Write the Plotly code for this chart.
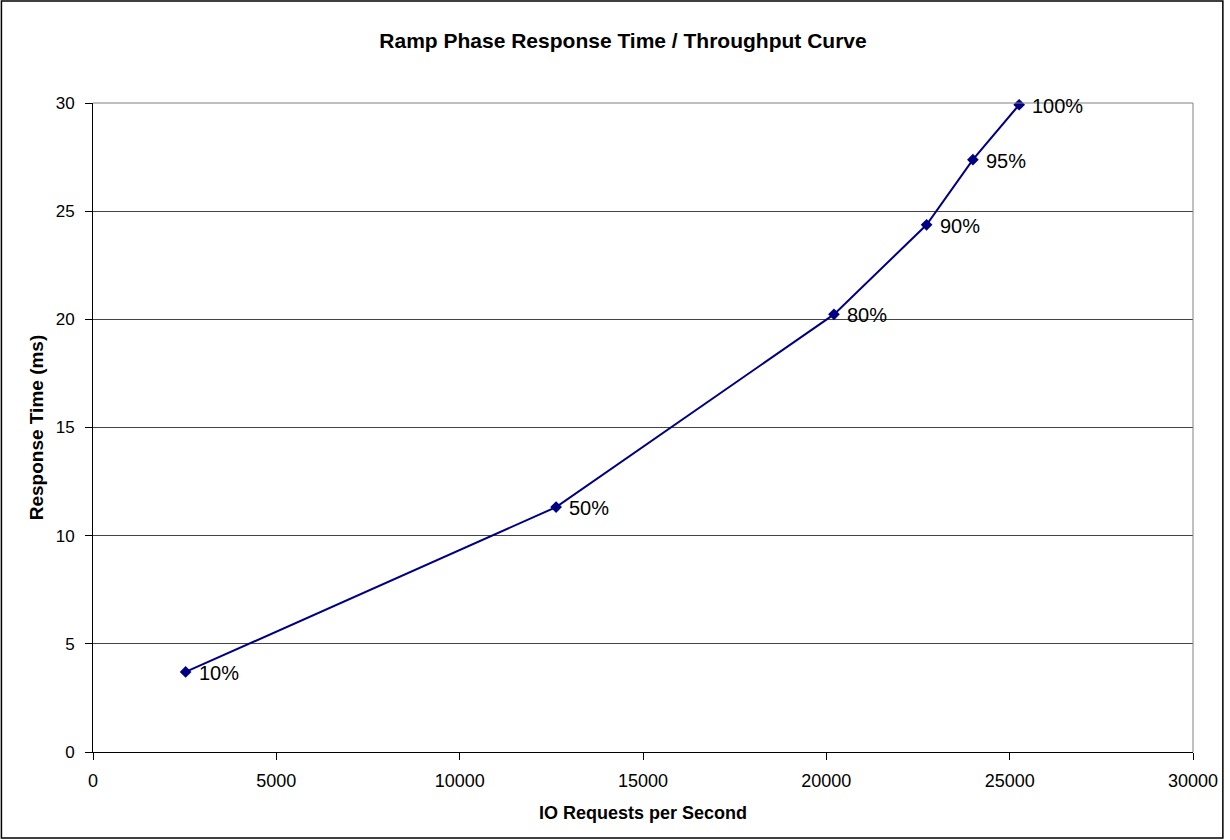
import plotly.graph_objects as go

io_rate = [2526, 12630, 20208, 22734, 23997, 25260]
resp_ms = [3.70, 11.32, 20.23, 24.37, 27.38, 29.92]
labels = ["10%", "50%", "80%", "90%", "95%", "100%"]
x_ticks = [0, 5000, 10000, 15000, 20000, 25000, 30000]
y_ticks = [0, 5, 10, 15, 20, 25, 30]

W, H = 1230, 840
L, R, T, B = 93, 1198, 103, 752
font = "Liberation Sans, Arial"

fig = go.Figure()
fig.add_trace(go.Scatter(
    x=io_rate, y=resp_ms, mode="lines+markers",
    line=dict(color="#000080", width=2),
    marker=dict(symbol="diamond", size=9, color="#000080"),
    cliponaxis=False, showlegend=False, hoverinfo="skip",
))
for xv, yv, lab in zip(io_rate, resp_ms, labels):
    fig.add_annotation(x=xv, y=yv, text=lab, showarrow=False,
                       xanchor="left", yanchor="middle", xshift=11, yshift=-1,
                       font=dict(family=font, size=20, color="black"))

fig.update_layout(
    width=W, height=H,
    margin=dict(l=L, r=W - R, t=T, b=H - B),
    paper_bgcolor="white", plot_bgcolor="white",
    font=dict(family=font, size=17, color="black"),
    title=dict(text="<b>Ramp Phase Response Time / Throughput Curve</b>",
               x=623 / W, xanchor="center", y=1 - 41 / H, yanchor="middle",
               font=dict(family=font, size=21, color="black")),
    xaxis=dict(range=[0, 30000], tickvals=x_ticks, ticktext=[str(v) for v in x_ticks],
               showgrid=False, zeroline=False, showline=True, linecolor="black", linewidth=1,
               ticks="outside", ticklen=7, tickcolor="black",
               ticklabelstandoff=5,
               tickfont=dict(family=font, size=18),
               title=dict(text="<b>IO Requests per Second</b>", font=dict(family=font, size=18), standoff=16)),
    yaxis=dict(range=[0, 30], tickvals=y_ticks, ticktext=[str(v) for v in y_ticks],
               showgrid=True, gridcolor="#444444", gridwidth=1, zeroline=False,
               showline=True, linecolor="black", linewidth=1,
               ticks="outside", ticklen=7, tickcolor="black",
               ticklabelstandoff=7,
               tickfont=dict(family=font, size=17),
               title=dict(text="<b>Response Time (ms)</b>", font=dict(family=font, size=19), standoff=7)),
)

# plot area right/top border (grey)
fig.add_shape(type="line", xref="paper", yref="paper", x0=1, x1=1, y0=0, y1=1,
              line=dict(color="#808080", width=1))
fig.add_shape(type="line", xref="paper", yref="paper", x0=0, x1=1, y0=1, y1=1,
              line=dict(color="#808080", width=1))
# outer chart border
pw, ph = R - L, B - T
fig.add_shape(type="rect", xref="paper", yref="paper",
              x0=(1 - L) / pw, x1=(1228 - L) / pw,
              y0=(B - 838) / ph, y1=(B - 1) / ph,
              line=dict(color="black", width=1.5), layer="below")

fig.write_html("out.html", config={"displayModeBar": False, "responsive": False},
               post_script="document.documentElement.style.margin='0';document.documentElement.style.overflow='hidden';document.body.style.margin='0';document.body.style.padding='0';document.body.style.overflow='hidden';")
